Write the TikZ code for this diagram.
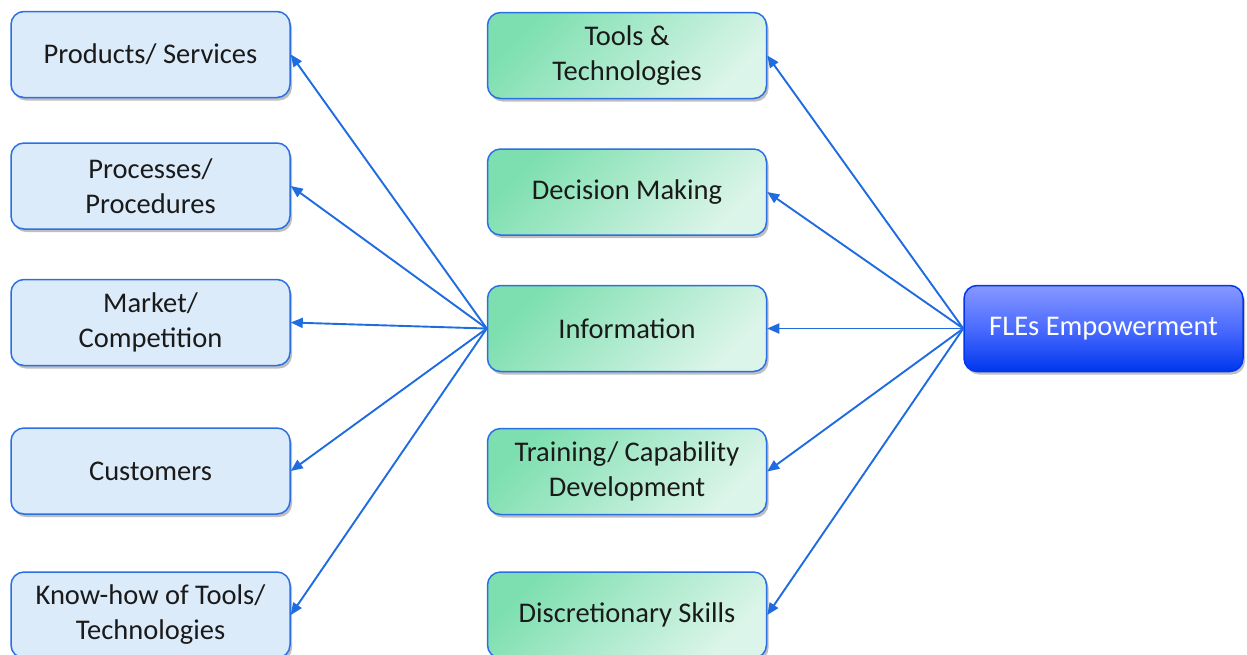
\documentclass[tikz,border=0pt]{standalone}
\usepackage{fontspec}
\setmainfont{Carlito}
\usetikzlibrary{arrows.meta,shadows}
\definecolor{edgeblue}{HTML}{2A6FE4}
\definecolor{paleblue}{HTML}{DCEBFA}
\definecolor{greendark}{HTML}{7DDFAF}
\definecolor{greenlight}{HTML}{DCF5EA}
\definecolor{royaltop}{HTML}{8798FF}
\definecolor{royalmid}{HTML}{4A6BFF}
\definecolor{royalbot}{HTML}{0036EE}
\definecolor{linkblue}{HTML}{1F6BE0}
\definecolor{inktext}{HTML}{1A1A1A}
\tikzset{
  card/.style={draw=edgeblue, line width=1.5pt, rounded corners=13pt,
    minimum width=279pt, minimum height=86pt, inner sep=0pt, align=center,
    font=\fontsize{28.5}{35}\selectfont, text=inktext,
    drop shadow={shadow xshift=2pt, shadow yshift=-3pt, opacity=0.25, fill=black}},
  factor/.style={card, fill=paleblue},
  lever/.style={card, top color=greendark, bottom color=greenlight, shading angle=45},
  hub/.style={card, draw=royalbot, top color=royaltop, bottom color=royalbot,
    middle color=royalmid, text=white},
  link/.style={draw=linkblue, line width=1.9pt, -{Triangle[length=12pt,width=10pt]}}
}
\begin{document}
\begin{tikzpicture}[x=1pt,y=-1pt]
\useasboundingbox (0,0) rectangle (1247,654);
% left column: what information covers
\node[factor] (prod) at (150.5,54.5) {Products/ Services};
\node[factor] (proc) at (150.5,186) {Processes/\\Procedures};
\node[factor] (mark) at (150.5,322.5) {Market/\\Competition};
\node[factor] (cust) at (150.5,471) {Customers};
\node[factor] (know) at (150.5,615) {Know-how of Tools/\\Technologies};
% middle column: empowerment dimensions
\node[lever] (tool) at (627,55.5) {Tools \&\\Technologies};
\node[lever] (deci) at (627,192) {Decision Making};
\node[lever] (info) at (627,328.5) {Information};
\node[lever] (train) at (627,471.5) {Training/ Capability\\Development};
\node[lever] (disc) at (627,615) {Discretionary Skills};
% right: the root
\node[hub] (fle) at (1103.5,328.5) {FLEs Empowerment};
% connectors from the root
\foreach \t in {tool,deci,info,train,disc}
  \draw[link] (fle.west) -- (\t.east);
% connectors from information
\foreach \t in {prod,proc,mark,cust,know}
  \draw[link] (info.west) -- (\t.east);
\end{tikzpicture}
\end{document}
